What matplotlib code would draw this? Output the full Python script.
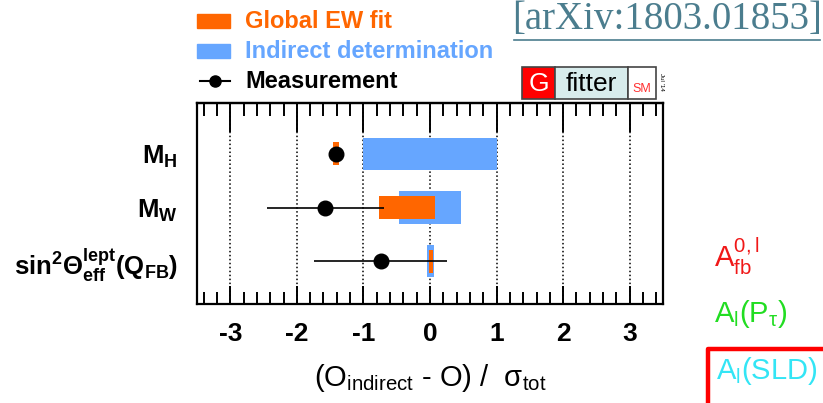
import numpy as np
import matplotlib.pyplot as plt
from matplotlib.patches import Rectangle
from matplotlib.lines import Line2D
from matplotlib.ticker import MultipleLocator

plt.rcParams['font.family'] = ['Liberation Sans', 'DejaVu Sans']
plt.rcParams['mathtext.fontset'] = 'custom'
plt.rcParams['mathtext.rm'] = 'Liberation Sans'
plt.rcParams['mathtext.it'] = 'Liberation Sans:italic'
plt.rcParams['mathtext.bf'] = 'Liberation Sans:bold'
plt.rcParams['axes.unicode_minus'] = False

# pull values (O_indirect - O)/sigma_tot
observables = [r'$\mathbf{M}_{\mathbf{H}}$', r'$\mathbf{M}_{\mathbf{W}}$',
               r'$\mathbf{sin^2\Theta^{lept}_{eff}(Q_{FB})}$']
meas = [-1.41, -1.57, -0.74]
meas_err = [0.0, 0.88, 1.0]
fit_lo = [-1.46, -0.76, -0.02]
fit_hi = [-1.36, 0.07, 0.04]
ind_lo = [-1.0, -0.46, -0.04]
ind_hi = [1.0, 0.47, 0.06]

ORANGE = '#ff6600'
BLUE = '#66a6ff'

W, H = 823, 403
fig = plt.figure(figsize=(W / 100, H / 100), dpi=100)
ax = fig.add_axes([197 / W, 1 - 304 / H, 466 / W, 201 / H])

rows = np.arange(len(observables))
ax.barh(rows, np.subtract(ind_hi, ind_lo), left=ind_lo, height=0.6,
        color=BLUE, zorder=2)
ax.barh(rows, np.subtract(fit_hi, fit_lo), left=fit_lo, height=0.43,
        color=ORANGE, zorder=3)
ax.errorbar(meas, rows, xerr=meas_err, fmt='o', color='black', ms=10.5,
            elinewidth=1.2, capsize=0, zorder=4)

for xv in range(-3, 4):
    ax.axvline(xv, color='black', ls=(0, (1, 1.6)), lw=1.1, zorder=1)

ax.set_xlim(-3.5, 3.5)
ax.set_ylim(2.8, -0.95)
ax.set_yticks(rows)
ax.set_yticklabels(observables, fontsize=18.5)
ax.tick_params(axis='y', length=0, pad=14)
ax.xaxis.set_major_locator(MultipleLocator(1))
ax.xaxis.set_minor_locator(MultipleLocator(0.2))
ax.tick_params(axis='x', which='major', direction='in', length=13, width=1.4,
               labelsize=19, pad=13)
ax.tick_params(axis='x', which='minor', direction='in', length=8.5, width=1.4)
for lab in ax.get_xticklabels():
    lab.set_fontweight('bold')
for s in ax.spines.values():
    s.set_linewidth(1.6)

top = ax.secondary_xaxis('top')
top.xaxis.set_major_locator(MultipleLocator(1))
top.xaxis.set_minor_locator(MultipleLocator(0.2))
top.tick_params(axis='x', which='major', direction='in', length=21, width=1.4,
                labelsize=0, labeltop=False)
top.tick_params(axis='x', which='minor', direction='in', length=9.5, width=1.4)
top.spines['top'].set_linewidth(1.6)

fig.text(430 / W, 1 - 378 / H,
         r'(O$_{\mathrm{indirect}}$ - O) /  $\mathrm{\sigma}_{\mathrm{tot}}$',
         fontsize=21, ha='center', va='center')

# legend
fig.patches.append(Rectangle((197 / W, 1 - 28 / H), 33 / W, 14 / H,
                             transform=fig.transFigure, color=ORANGE))
fig.patches.append(Rectangle((197 / W, 1 - 58 / H), 33 / W, 14 / H,
                             transform=fig.transFigure, color=BLUE))
fig.lines.append(Line2D([200 / W, 230 / W], [1 - 81 / H, 1 - 81 / H],
                        transform=fig.transFigure, color='black', lw=1.5))
fig.lines.append(Line2D([215 / W], [1 - 81 / H], transform=fig.transFigure,
                        color='black', marker='o', ms=8))
fig.text(245 / W, 1 - 21 / H, 'Global EW fit', color=ORANGE, fontsize=17,
         fontweight='bold', va='center')
fig.text(245 / W, 1 - 51 / H, 'Indirect determination', color=BLUE,
         fontsize=17, fontweight='bold', va='center')
fig.text(245 / W, 1 - 81 / H, 'Measurement', color='black', fontsize=17,
         fontweight='bold', va='center')

# Gfitter logo
for x0, x1, fc in [(522, 555, '#ff0000'), (555, 628, '#d8ecec'),
                   (628, 656, 'white')]:
    fig.patches.append(Rectangle((x0 / W, 1 - 99 / H), (x1 - x0) / W, 32 / H,
                                 transform=fig.transFigure, facecolor=fc,
                                 edgecolor='#444444', lw=1.2))
fig.text(538.5 / W, 1 - 84 / H, 'G', color='white', fontsize=19,
         ha='center', va='center')
fig.text(591.5 / W, 1 - 84 / H, 'fitter', color='black', fontsize=19,
         ha='center', va='center')
fig.text(642 / W, 1 - 89 / H, 'SM', color='#ff3030', fontsize=9,
         ha='center', va='center')
fig.text(662 / W, 1 - 82 / H, "Jul '14", color='black', fontsize=4.5,
         rotation=-90, ha='center', va='center')

fig.text(512 / W, 1 - 19 / H, '[arXiv:1803.01853]', color='#4b7d8e',
         fontsize=28, family='Liberation Serif', va='center')
fig.lines.append(Line2D([514 / W, 820 / W], [1 - 40 / H, 1 - 40 / H],
                        transform=fig.transFigure, color='#4b7d8e', lw=1.2))

# neighbouring observables on the right
fig.text(714 / W, 1 - 256 / H, r'$\mathrm{A^{0,l}_{fb}}$', color='#f01818',
         fontsize=21, va='center')
fig.text(714 / W, 1 - 314 / H, r'$\mathrm{A_l(P_\tau)}$', color='#22dd22',
         fontsize=21, va='center')
fig.text(716 / W, 1 - 371 / H, r'$\mathrm{A_l(SLD)}$', color='#33e5f5',
         fontsize=21, va='center')
fig.lines.append(Line2D([708 / W, 708 / W, 1.0], [0.0, 1 - 349 / H, 1 - 349 / H],
                        transform=fig.transFigure, color='#ff0000', lw=3.2))

fig.savefig('out.png', dpi=100)
